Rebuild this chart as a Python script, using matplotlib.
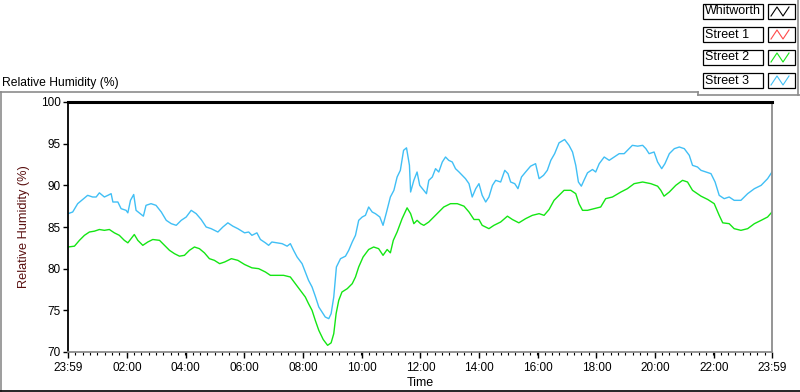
import matplotlib
matplotlib.use('Agg')
import matplotlib.pyplot as plt
from matplotlib.lines import Line2D
from matplotlib.patches import Rectangle
import numpy as np

plt.rcParams['font.family'] = ['Liberation Sans', 'DejaVu Sans']

## Series / legend
names = ['Whitworth', 'Street 1', 'Street 2', 'Street 3']
colors = ['#000000', '#ff4a4a', '#14e614', '#40bff5']

## Street 2 (hours after 23:59, RH %)
street2_t = [0.0, 0.22, 0.39, 0.56, 0.73, 0.90, 1.07, 1.24, 1.41, 1.58, 1.75, 1.92,
             2.04, 2.15, 2.26, 2.38, 2.55, 2.72, 2.89, 3.12, 3.29, 3.46, 3.63, 3.80,
             3.97, 4.14, 4.31, 4.48, 4.65, 4.82, 4.99, 5.17, 5.34, 5.57, 5.79, 6.02,
             6.27, 6.50, 6.73, 6.90, 7.13, 7.35, 7.58, 7.75, 7.92, 8.09, 8.20, 8.32,
             8.43, 8.55, 8.70, 8.85, 8.97, 9.06, 9.14, 9.23, 9.34, 9.52, 9.69, 9.80,
             9.91, 10.06, 10.25, 10.42, 10.59, 10.74, 10.88, 10.99, 11.09, 11.22, 11.39, 11.56,
             11.68, 11.79, 11.90, 12.02, 12.13, 12.30, 12.47, 12.64, 12.81, 13.04, 13.27, 13.50,
             13.67, 13.84, 14.01, 14.12, 14.35, 14.52, 14.75, 14.98, 15.15, 15.37, 15.60, 15.83,
             16.06, 16.23, 16.40, 16.57, 16.74, 16.91, 17.14, 17.31, 17.42, 17.54, 17.71, 17.93,
             18.16, 18.33, 18.56, 18.85, 19.07, 19.30, 19.59, 19.87, 20.10, 20.21, 20.32, 20.50,
             20.72, 20.95, 21.12, 21.29, 21.58, 21.81, 22.03, 22.20, 22.32, 22.54, 22.71, 22.94,
             23.17, 23.40, 23.63, 23.85, 24.0]
street2_rh = [82.6, 82.7, 83.4, 84.0, 84.4, 84.5, 84.7, 84.6, 84.7, 84.3, 84.0, 83.4,
              83.1, 83.6, 84.1, 83.4, 82.8, 83.2, 83.5, 83.4, 82.8, 82.2, 81.8, 81.5,
              81.6, 82.2, 82.6, 82.4, 81.9, 81.2, 81.0, 80.6, 80.8, 81.2, 81.0, 80.5,
              80.1, 80.0, 79.6, 79.2, 79.2, 79.2, 79.0, 78.2, 77.4, 76.6, 75.8, 75.0,
              73.8, 72.6, 71.5, 70.8, 71.1, 72.2, 74.6, 76.2, 77.2, 77.6, 78.2, 79.0,
              80.2, 81.4, 82.3, 82.6, 82.4, 81.6, 82.3, 81.9, 83.4, 84.4, 86.0, 87.3,
              86.6, 85.4, 85.8, 85.4, 85.2, 85.6, 86.2, 86.8, 87.4, 87.8, 87.8, 87.5,
              86.8, 85.9, 85.9, 85.2, 84.8, 85.2, 85.6, 86.3, 85.9, 85.5, 86.0, 86.4,
              86.6, 86.4, 87.1, 88.2, 88.8, 89.4, 89.4, 89.0, 87.8, 87.0, 87.0, 87.2,
              87.4, 88.4, 88.6, 89.2, 89.6, 90.2, 90.4, 90.2, 89.9, 89.4, 88.7, 89.2,
              90.0, 90.6, 90.4, 89.4, 88.7, 88.3, 87.8, 86.4, 85.5, 85.4, 84.8, 84.6,
              84.8, 85.4, 85.8, 86.2, 86.8]

## Street 3 (hours after 23:59, RH %)
street3_t = [0.0, 0.16, 0.33, 0.50, 0.67, 0.84, 0.96, 1.07, 1.24, 1.36, 1.47, 1.53,
             1.70, 1.81, 1.98, 2.04, 2.13, 2.24, 2.32, 2.46, 2.57, 2.66, 2.83, 3.00,
             3.18, 3.35, 3.52, 3.69, 3.86, 4.03, 4.20, 4.37, 4.54, 4.71, 4.88, 5.11,
             5.28, 5.45, 5.62, 5.79, 6.02, 6.16, 6.27, 6.44, 6.56, 6.73, 6.84, 6.95,
             7.13, 7.30, 7.47, 7.58, 7.69, 7.81, 7.98, 8.09, 8.20, 8.32, 8.43, 8.55,
             8.66, 8.77, 8.89, 8.97, 9.06, 9.15, 9.29, 9.46, 9.57, 9.69, 9.80, 9.91,
             10.03, 10.14, 10.25, 10.37, 10.48, 10.63, 10.74, 10.86, 10.99, 11.11, 11.22, 11.33,
             11.44, 11.54, 11.64, 11.68, 11.79, 11.90, 11.99, 12.13, 12.22, 12.30, 12.42, 12.53,
             12.64, 12.76, 12.87, 12.98, 13.10, 13.21, 13.33, 13.44, 13.55, 13.67, 13.78, 13.90,
             14.01, 14.12, 14.24, 14.35, 14.47, 14.58, 14.75, 14.89, 15.00, 15.09, 15.23, 15.34,
             15.46, 15.60, 15.77, 15.94, 16.06, 16.21, 16.34, 16.46, 16.59, 16.74, 16.93, 17.08,
             17.20, 17.31, 17.40, 17.50, 17.59, 17.71, 17.88, 17.99, 18.11, 18.28, 18.45, 18.62,
             18.79, 18.96, 19.13, 19.24, 19.42, 19.59, 19.70, 19.81, 19.98, 20.10, 20.24, 20.35,
             20.50, 20.67, 20.84, 21.01, 21.18, 21.29, 21.46, 21.58, 21.75, 21.92, 22.06, 22.20,
             22.37, 22.54, 22.71, 22.94, 23.17, 23.40, 23.63, 23.85, 24.0]
street3_rh = [86.6, 86.8, 87.8, 88.3, 88.8, 88.6, 88.6, 89.1, 88.6, 88.8, 89.0, 88.0,
              88.0, 87.2, 87.0, 86.7, 88.2, 88.9, 87.0, 86.6, 86.3, 87.6, 87.8, 87.6,
              86.8, 85.8, 85.4, 85.2, 85.8, 86.2, 87.0, 86.6, 85.9, 85.0, 84.8, 84.4,
              85.0, 85.5, 85.1, 84.8, 84.3, 84.4, 84.0, 84.3, 83.5, 83.1, 82.8, 83.2,
              83.1, 83.0, 82.7, 83.0, 82.2, 81.4, 80.6, 79.6, 78.6, 77.8, 76.7, 75.4,
              74.8, 74.2, 74.0, 74.6, 76.6, 80.2, 81.2, 81.5, 82.2, 83.2, 84.0, 85.8,
              86.2, 86.4, 87.4, 86.8, 86.6, 86.2, 85.2, 86.8, 88.6, 89.4, 91.0, 91.8,
              94.2, 94.5, 92.4, 89.2, 90.6, 91.6, 90.0, 89.4, 89.0, 90.6, 91.0, 92.0,
              91.6, 92.8, 93.4, 93.0, 92.8, 92.0, 91.6, 91.2, 90.8, 90.2, 88.6, 89.6,
              90.2, 88.8, 88.0, 88.6, 90.0, 90.6, 90.4, 91.8, 91.4, 90.4, 90.2, 89.6,
              91.0, 91.6, 92.3, 92.6, 90.8, 91.2, 91.8, 93.0, 93.8, 95.1, 95.5, 94.8,
              94.0, 92.4, 90.4, 89.9, 90.6, 91.5, 91.9, 91.6, 92.6, 93.4, 93.0, 93.4,
              93.8, 93.8, 94.4, 94.8, 94.7, 94.8, 94.4, 93.8, 94.0, 92.8, 92.0, 92.6,
              93.8, 94.4, 94.6, 94.4, 93.6, 92.4, 92.2, 91.8, 91.6, 91.4, 90.4, 88.8,
              88.4, 88.6, 88.2, 88.2, 89.0, 89.6, 90.0, 90.8, 91.6]

## Axis ticks
y_ticks = [70, 75, 80, 85, 90, 95, 100]
x_labels = ['23:59', '02:00', '04:00', '06:00', '08:00', '10:00', '12:00',
            '14:00', '16:00', '18:00', '20:00', '22:00', '23:59']
x_ticks = [0] + [h + 1 / 60 for h in range(2, 24, 2)] + [24]

W, H = 800, 392
fig = plt.figure(figsize=(W / 100, H / 100), dpi=100)


def fx(x):
    return x / W


def fy(y):
    return 1 - y / H


ax = fig.add_axes([fx(68), fy(352), 704 / W, 250 / H])

ax.plot(street2_t, street2_rh, color=colors[2], lw=1.0)
ax.plot(street3_t, street3_rh, color=colors[3], lw=1.0)

ax.set_xlim(0, 24)
ax.set_ylim(70, 100)
ax.set_yticks(y_ticks)
ax.set_xticks(x_ticks)
ax.set_xticklabels(x_labels)
ax.set_xticks(np.arange(0, 24.01, 0.25), minor=True)
ax.tick_params(axis='both', labelsize=8.5, colors='black')
ax.tick_params(axis='y', length=3.5, width=1, pad=1.5)
ax.tick_params(axis='x', which='major', length=4, width=1, pad=3)
ax.tick_params(axis='x', which='minor', length=2.5, width=0.8)

ax.spines['top'].set_color('black')
ax.spines['top'].set_linewidth(2.2)
ax.spines['left'].set_color('black')
ax.spines['left'].set_linewidth(1.3)
ax.spines['bottom'].set_color('#8c8c8c')
ax.spines['bottom'].set_linewidth(1.3)
ax.spines['right'].set_color('#8c8c8c')
ax.spines['right'].set_linewidth(1.3)

ax.set_xlabel('Time', fontsize=9, labelpad=2.5)
ax.set_ylabel('Relative Humidity (%)', fontsize=9.2, color='#5a1010', labelpad=8)

## Chart title and frame
fig.text(fx(2), fy(83), 'Relative Humidity (%)', fontsize=8.7, va='center', ha='left')
frame = [((0, 698), (92, 92), '#8c8c8c'), ((698, 698), (92, 95), '#8c8c8c'),
         ((698, 800), (95, 95), '#8c8c8c'), ((798, 798), (0, 95), '#8c8c8c'),
         ((0.5, 0.5), (92, 391), '#8c8c8c'), ((0, 800), (391, 391), 'black')]
for xs, ys, c in frame:
    fig.add_artist(Line2D([fx(v) for v in xs], [fy(v) for v in ys], color=c, lw=1.2))

## Legend
for i, (name, c) in enumerate(zip(names, colors)):
    top = 4 + 23 * i
    fig.add_artist(Rectangle((fx(703), fy(top + 15)), 60 / W, 15 / H, fill=False,
                             edgecolor='black', lw=0.9, transform=fig.transFigure))
    fig.add_artist(Rectangle((fx(768), fy(top + 15)), 27 / W, 15 / H, fill=False,
                             edgecolor='black', lw=0.9, transform=fig.transFigure))
    fig.text(fx(705), fy(top + 7.5), name, fontsize=9, va='center', ha='left')
    zx = [771, 777, 783, 789]
    zy = [top + 12, top + 3, top + 12, top + 3]
    fig.add_artist(Line2D([fx(v) for v in zx], [fy(v) for v in zy], color=c, lw=0.8))

fig.savefig('out.png', dpi=100)
